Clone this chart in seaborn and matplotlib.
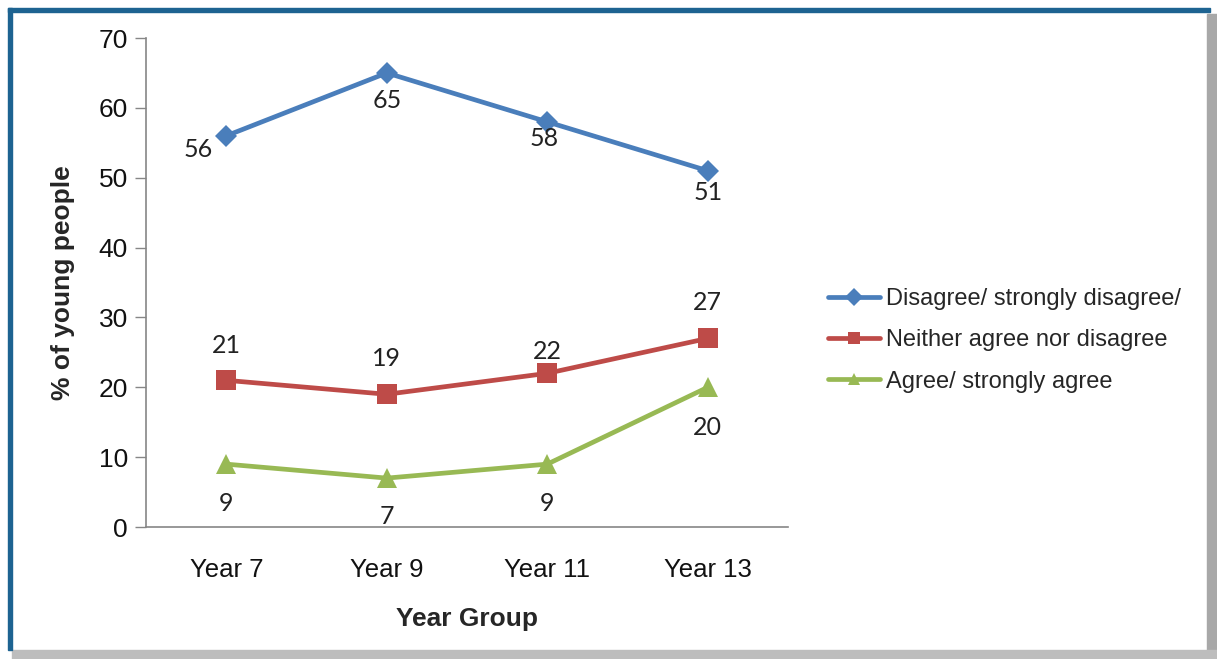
import pandas as pd
import matplotlib.pyplot as plt
import seaborn as sns
from matplotlib.patches import Rectangle
from matplotlib.ticker import FixedLocator

# chart values
years = ['Year 7', 'Year 9', 'Year 11', 'Year 13']
disagree = [56, 65, 58, 51]
neither = [21, 19, 22, 27]
agree = [9, 7, 9, 20]
series_names = ['Disagree/ strongly disagree/', 'Neither agree nor disagree', 'Agree/ strongly agree']

rows = []
for name, vals in zip(series_names, [disagree, neither, agree]):
    for i, (yr, v) in enumerate(zip(years, vals)):
        rows.append({'pos': i, 'year': yr, 'series': name, 'value': v})
df = pd.DataFrame(rows)

sns.set_style('white')
plt.rcParams['font.family'] = ['Liberation Sans', 'DejaVu Sans']

colors = {series_names[0]: '#4A7EBB', series_names[1]: '#BE4B48', series_names[2]: '#98B954'}
markers = {series_names[0]: 'D', series_names[1]: 's', series_names[2]: '^'}
msizes = {series_names[0]: 11, series_names[1]: 14, series_names[2]: 15}

fig = plt.figure(figsize=(12.17, 6.59), dpi=100)
fig.patch.set_facecolor('white')
ax = fig.add_axes([0.120, 0.2003, 0.5275, 0.742])

for name in series_names:
    sub = df[df['series'] == name]
    sns.lineplot(data=sub, x='pos', y='value', ax=ax, color=colors[name],
                 marker=markers[name], markersize=msizes[name], markeredgewidth=0,
                 linewidth=3.4, label=name)

# data labels: offsets in points (dx, dy)
label_offsets = {
    series_names[0]: [(-20, -10), (0, -19.5), (-2, -12), (0, -16)],
    series_names[1]: [(0, 25), (0, 26), (0, 16), (0, 26)],
    series_names[2]: [(0, -28), (0, -28), (0, -28), (0, -29)],
}
for name in series_names:
    sub = df[df['series'] == name]
    for (_, r), (dx, dy) in zip(sub.iterrows(), label_offsets[name]):
        ax.annotate(str(r['value']), (r['pos'], r['value']), xytext=(dx, dy),
                    textcoords='offset points', ha='center', va='center',
                    fontsize=18, family=['Lato', 'DejaVu Sans'], color='#222222')

ax.set_xlim(-0.5, 3.5)
ax.set_ylim(0, 70)
ax.set_yticks(range(0, 71, 10))
ax.set_xticks(range(len(years)))
ax.set_xticklabels(years)
ax.xaxis.set_minor_locator(FixedLocator([-0.5, 0.5, 1.5, 2.5, 3.5]))
ax.tick_params(axis='x', which='major', length=0, labelsize=18.5, pad=22, colors='#111111')
ax.tick_params(axis='x', which='minor', length=8, width=1, color='#868686')
ax.tick_params(axis='y', length=8, width=1, color='#868686', labelsize=19, pad=5,
               labelcolor='#111111', left=True)
for s in ['top', 'right']:
    ax.spines[s].set_visible(False)
for s in ['left', 'bottom']:
    ax.spines[s].set_color('#868686')
    ax.spines[s].set_linewidth(1.2)

ax.set_xlabel('Year Group', fontsize=19, fontweight='bold', labelpad=18)
ax.set_ylabel('% of young people', fontsize=19, fontweight='bold', labelpad=17)

leg = ax.legend(loc='upper left', bbox_to_anchor=(1.062, 0.489), frameon=False,
                fontsize=17, handlelength=2.2, handletextpad=0.25, labelspacing=0.82,
                borderaxespad=0, borderpad=0)
for h in leg.legend_handles:
    h.set_markersize(9)

# frame: blue on top/left, grey shadow on right/bottom
fig.patches.append(Rectangle((1207 / 1217, 0), 10 / 1217, 1 - 14 / 659,
                             transform=fig.transFigure, color='#a8a8a8', zorder=0))
fig.patches.append(Rectangle((12 / 1217, 0), 1 - 12 / 1217, 9 / 659,
                             transform=fig.transFigure, color='#bdbdbd', zorder=0))
fig.patches.append(Rectangle((8 / 1217, 1 - 12 / 659), 1202 / 1217, 4 / 659,
                             transform=fig.transFigure, color='#1d6391', zorder=1))
fig.patches.append(Rectangle((8 / 1217, 9 / 659), 4 / 1217, 1 - 17 / 659,
                             transform=fig.transFigure, color='#1d6391', zorder=1))

fig.savefig('out.png', dpi=100)
